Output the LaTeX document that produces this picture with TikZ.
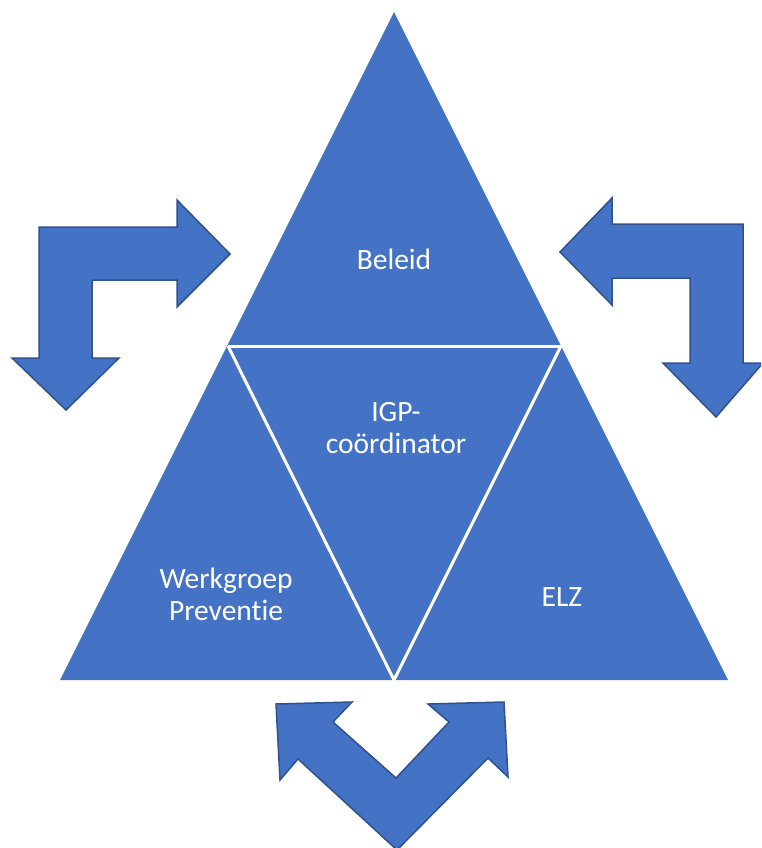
\documentclass[tikz,border=0pt]{standalone}
\usepackage{fontspec}
\setmainfont{Carlito}[Ligatures=NoCommon]
\definecolor{tfill}{HTML}{4472C4}
\definecolor{tedge}{HTML}{2F528F}
\begin{document}
\begin{tikzpicture}[x=1pt,y=-1pt,
  lbl/.style={text=white,font=\fontsize{29.5}{32}\selectfont,align=center},
  arrowshape/.style={fill=tfill,draw=tedge,line width=1.5pt,line join=miter},
  sep/.style={draw=white,line width=3pt}]
\useasboundingbox (0,0) rectangle (761,848);
\begin{scope}
\clip (0,0) rectangle (761,848);
% triangle vertices
\coordinate (A) at (394,12);
\coordinate (L) at (60,680);
\coordinate (R) at (728,680);
\coordinate (ML) at (228,346);
\coordinate (MR) at (561,346);
\coordinate (MB) at (394,680);
\fill[tfill] (A) -- (R) -- (L) -- cycle;
\draw[sep] (ML) -- (MR);
\draw[sep] (ML) -- (MB) -- (MR);
% left bent arrow
\draw[arrowshape] (39,227) -- (177,227) -- (177,200) -- (230,254) -- (177,307)
  -- (177,280) -- (92,280) -- (92,358) -- (119,358) -- (66,410) -- (12,358)
  -- (39,358) -- cycle;
% right bent arrow
\draw[arrowshape] (560,252) -- (612,198) -- (612,224) -- (743,224) -- (743,363)
  -- (763,363) -- (716,417) -- (663,363) -- (690,363) -- (690,278) -- (612,278)
  -- (612,305) -- cycle;
% bottom V arrow
\draw[arrowshape] (276,704) -- (352,702) -- (333,722) -- (396,778) -- (449,722)
  -- (428,704) -- (504,702) -- (508,777) -- (488,758) -- (397,850)
  -- (298,759) -- (280,780) -- cycle;
\end{scope}
% labels
\node[lbl,anchor=base] (beleid) at (394,269) {Beleid};
\node[lbl,anchor=base] (igp) at (396,453) {IGP-\\coördinator};
\node[lbl,anchor=base] (wp) at (226,620) {Werkgroep\\Preventie};
\node[lbl,anchor=base] (elz) at (562,606) {ELZ};
\end{tikzpicture}
\end{document}
